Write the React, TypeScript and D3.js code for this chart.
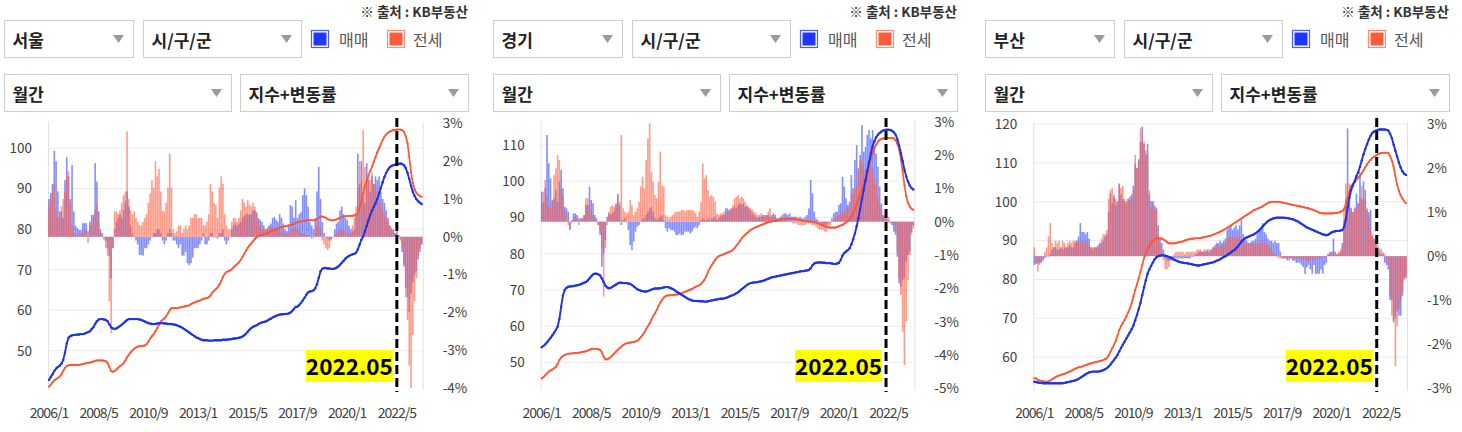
import React from 'react';
import * as d3 from 'd3';

const FONT = "'Noto Sans CJK KR', 'Noto Sans', sans-serif";

// monthly x axis, 2006/1 .. 2023/7
const tickMonths = [0, 28, 56, 84, 112, 140, 168, 196];
const tickLabels = ['2006/1', '2008/5', '2010/9', '2013/1', '2015/5', '2017/9', '2020/1', '2022/5'];
const markMonth = 196;
const markLabel = '2022.05';

// 서울
const seoulSaleIndex = [
  42.8, 43.5, 44.2, 45.0, 45.6, 46.0, 46.3, 46.8, 47.7, 49.5, 51.8, 53.2,
  53.6, 53.8, 53.9, 53.9, 54.0, 54.0, 54.1, 54.1, 54.2, 54.4, 54.6, 54.8,
  55.3, 55.8, 56.6, 57.3, 57.7, 57.8, 57.8, 57.7, 57.6, 57.3, 56.5, 55.8,
  55.5, 55.4, 55.5, 55.8, 56.1, 56.4, 56.8, 57.2, 57.6, 57.8, 57.8, 57.8,
  57.8, 57.8, 57.8, 57.7, 57.6, 57.4, 57.2, 57.0, 56.8, 56.7, 56.6, 56.6,
  56.6, 56.7, 56.8, 56.8, 56.8, 56.7, 56.7, 56.6, 56.6, 56.6, 56.5, 56.4,
  56.3, 56.1, 55.9, 55.7, 55.4, 55.1, 54.8, 54.5, 54.2, 53.9, 53.6, 53.3,
  53.1, 52.9, 52.7, 52.6, 52.6, 52.6, 52.5, 52.5, 52.5, 52.6, 52.6, 52.6,
  52.6, 52.6, 52.7, 52.7, 52.7, 52.8, 52.8, 52.9, 53.0, 53.0, 53.1, 53.2,
  53.3, 53.5, 53.8, 54.2, 54.7, 55.2, 55.6, 55.9, 56.1, 56.3, 56.6, 56.8,
  57.0, 57.1, 57.2, 57.4, 57.7, 57.9, 58.2, 58.4, 58.6, 58.8, 58.9, 59.0,
  59.0, 59.1, 59.1, 59.2, 59.4, 59.8, 60.3, 60.8, 60.9, 61.3, 61.8, 62.4,
  63.1, 63.8, 64.4, 64.6, 64.7, 64.9, 65.4, 66.4, 68.0, 69.6, 70.2, 70.4,
  70.4, 70.3, 70.3, 70.2, 70.2, 70.3, 70.5, 70.8, 71.2, 71.7, 72.2, 72.7,
  73.1, 73.4, 73.6, 73.8, 73.9, 74.2, 75.0, 76.2, 77.4, 78.2, 79.4, 80.8,
  82.2, 83.5, 84.6, 85.5, 86.4, 87.5, 88.8, 90.2, 91.6, 92.9, 93.9, 94.7,
  95.3, 95.6, 95.8, 95.9, 96.0, 96.1, 96.2, 96.1, 95.8, 95.1, 93.9, 92.4,
  90.7, 89.2, 88.2, 87.4, 86.9, 86.5, 86.2,
];
const seoulRentIndex = [
  41.1, 41.6, 42.2, 42.7, 43.0, 43.3, 43.6, 44.2, 45.0, 45.8, 46.2, 46.4,
  46.5, 46.5, 46.5, 46.5, 46.5, 46.5, 46.6, 46.7, 46.8, 46.9, 47.0, 47.1,
  47.2, 47.3, 47.5, 47.6, 47.6, 47.6, 47.6, 47.5, 47.4, 47.0, 46.0, 45.0,
  44.8, 45.0, 45.4, 45.8, 46.2, 46.5, 46.9, 47.6, 48.4, 49.0, 49.6, 50.1,
  50.5, 50.8, 51.0, 51.1, 51.2, 51.2, 51.3, 51.6, 52.2, 53.0, 53.6, 54.1,
  54.8, 55.6, 56.4, 57.2, 57.6, 58.0, 58.5, 59.2, 60.0, 60.5, 60.5, 60.5,
  60.5, 60.6, 60.7, 60.8, 60.9, 61.0, 61.1, 61.2, 61.5, 61.7, 61.9, 62.1,
  62.3, 62.4, 62.6, 62.8, 62.9, 63.0, 63.2, 63.6, 64.3, 64.8, 65.2, 65.6,
  66.3, 67.2, 68.2, 69.0, 69.4, 69.6, 69.8, 70.1, 70.6, 71.0, 71.4, 71.8,
  72.4, 73.1, 73.9, 74.7, 75.4, 76.0, 76.5, 77.0, 77.6, 78.0, 78.3, 78.5,
  78.6, 78.7, 78.9, 79.0, 79.2, 79.4, 79.6, 79.8, 80.0, 80.2, 80.4, 80.5,
  80.6, 80.7, 80.8, 80.9, 81.0, 81.1, 81.3, 81.5, 81.7, 81.8, 81.9, 82.0,
  82.0, 82.1, 82.2, 82.2, 82.2, 82.2, 82.2, 82.4, 82.8, 83.1, 83.1, 83.0,
  82.8, 82.5, 82.3, 82.2, 82.2, 82.3, 82.4, 82.6, 82.8, 83.0, 83.1, 83.2,
  83.2, 83.3, 83.3, 83.3, 83.4, 83.6, 84.0, 85.2, 86.6, 88.9, 90.6, 92.0,
  93.3, 94.3, 95.4, 96.6, 97.8, 99.0, 100.0, 101.0, 102.0, 102.8, 103.4, 103.8,
  104.1, 104.3, 104.5, 104.5, 104.6, 104.6, 104.6, 104.4, 104.0, 103.0, 101.2, 97.8,
  94.0, 91.4, 89.8, 89.0, 88.5, 88.2, 88.0,
];
const seoulSaleChange = [
  1.0, 1.15, 1.4, 2.27, 2.0, 1.2, 0.67, 0.67, 0.5, 1.5, 2.1, 1.6,
  1.0, 1.9, 0.67, 0.3, 0.23, 0.18, 0.18, 0.36, 0.36, 0.36, 0.15, 0.4,
  0.58, 0.58, 1.95, 1.46, 0.67, 0.2, 0.1, 0.0, -0.1, -0.3, -0.5, -1.1,
  -0.3, 0.2, 0.4, 0.5, 0.6, 0.5, 0.7, 0.93, 1.2, 0.8, 0.3, 0.1,
  0.0, -0.1, -0.2, -0.48, -0.48, -0.5, -0.3, -0.3, -0.2, -0.1, 0.0, 0.1,
  0.1, 0.2, 0.2, 0.1, -0.1, -0.2, -0.1, 0.1, 0.2, 0.1, -0.1, -0.1,
  -0.2, -0.3, -0.2, -0.5, -0.5, -0.4, -0.7, -0.75, -0.7, -0.55, -0.3, -0.3,
  -0.3, -0.2, -0.1, 0.1, -0.2, -0.2, -0.1, 0.1, 0.1, 0.0, 0.0, -0.05,
  0.1, 0.1, 0.2, -0.1, -0.2, -0.1, 0.0, 0.2, 0.3, 0.35, 0.3, 0.35,
  0.4, 0.5, 0.55, 0.6, 0.6, 0.58, 0.6, 0.7, 0.7, 0.65, 0.5, 0.45,
  0.4, 0.3, 0.2, 0.2, 0.3, 0.35, 0.5, 0.53, 0.45, 0.4, 0.6, 0.5,
  0.35, 0.2, 0.15, 0.3, 0.84, 0.8, 0.5, 0.97, 0.5, 0.6, 0.65, 1.1,
  1.28, 1.1, 0.8, 0.4, 0.3, 0.2, 0.5, 1.2, 1.85, 1.0, 0.4, 0.1,
  0.0, -0.05, -0.1, -0.05, 0.0, 0.2, 0.35, 0.4, 0.7, 0.8, 0.6, 0.5,
  0.45, 0.3, 0.2, 0.15, 0.2, 0.6, 2.2, 1.4, 2.0, 1.0, 0.9, 1.95,
  1.5, 1.2, 1.6, 1.4, 1.6, 1.5, 1.6, 1.2, 1.0, 0.9, 0.7, 0.5,
  0.3, 0.2, 0.18, 0.1, 0.15, 0.05, -0.05, -0.4, -0.75, -1.35, -1.6, -2.0,
  -1.5, -1.2, -1.0, -0.9, -0.6, -0.4, -0.2,
];
const seoulRentChange = [
  0.8, 1.0, 1.2, 1.4, 0.7, 0.5, 0.5, 0.8, 1.0, 1.2, 1.6, 1.73,
  0.9, 0.3, 0.1, 0.0, 0.1, 0.05, 0.1, 0.1, 0.2, 0.2, -0.17, 0.3,
  0.3, 0.5, 0.7, 0.85, 0.4, 0.1, 0.0, -0.1, -0.3, -0.5, -1.7, -2.55,
  -0.3, 0.67, 0.67, 0.6, 0.7, 0.9, 1.1, 1.2, 2.79, 1.0, 0.7, 0.6,
  0.67, 0.5, 0.4, 0.3, 0.3, 0.4, 0.5, 0.6, 0.9, 1.15, 1.5, 1.3,
  2.0, 1.6, 1.8, 1.2, 0.7, 0.67, 0.9, 1.3, 2.2, 1.3, 0.2, 0.1,
  0.15, 0.3, 0.3, 0.1, 0.2, 0.3, 0.2, 0.3, 0.5, 0.5, 0.6, 0.6,
  0.5, 0.5, 0.5, 0.3, 0.3, 0.4, 0.6, 1.4, 1.2, 0.9, 0.85, 0.5,
  1.3, 1.6, 1.4, 0.6, 0.3, 0.2, 0.2, 0.4, 0.5, 0.5, 0.4, 0.5,
  0.7, 1.0, 0.9, 0.8, 0.97, 0.85, 0.8, 0.9, 0.8, 0.6, 0.4, 0.3,
  0.2, 0.2, 0.2, 0.25, 0.25, 0.25, 0.25, 0.2, 0.25, 0.2, 0.2, 0.15,
  0.15, 0.1, 0.1, 0.1, 0.15, 0.2, 0.25, 0.25, 0.2, 0.15, 0.1, 0.1,
  0.1, 0.05, 0.05, 0.0, -0.05, 0.0, 0.1, 0.3, 0.4, 0.2, -0.1, -0.2,
  -0.3, -0.35, -0.3, -0.1, 0.0, 0.05, 0.1, 0.15, 0.2, 0.2, 0.15, 0.15,
  0.1, 0.1, 0.1, 0.3, 0.5, 0.8, 1.3, 2.0, 1.5, 2.82, 1.85, 1.5,
  1.6, 1.5, 1.7, 1.4, 1.3, 1.2, 1.0, 0.9, 0.7, 0.6, 0.5, 0.4,
  0.3, 0.25, 0.2, 0.1, 0.05, 0.0, -0.1, -0.3, -0.8, -1.6, -2.2, -3.4,
  -4.0, -2.6, -1.7, -1.1, -0.5, -0.3, -0.2,
];

// 경기
const gyeonggiSaleIndex = [
  54.2, 54.6, 55.0, 55.6, 56.2, 56.8, 57.5, 58.2, 59.0, 59.9, 62.0, 65.4,
  68.5, 70.0, 70.6, 70.9, 71.0, 71.0, 71.1, 71.2, 71.3, 71.4, 71.6, 71.8,
  72.0, 72.2, 72.6, 73.2, 73.8, 74.3, 74.5, 74.5, 74.3, 74.0, 73.2, 72.2,
  71.2, 70.7, 70.5, 70.6, 70.9, 71.2, 71.5, 71.8, 72.0, 72.0, 71.9, 71.9,
  71.9, 71.8, 71.7, 71.4, 71.0, 70.6, 70.2, 70.0, 69.8, 69.7, 69.6, 69.6,
  69.7, 69.9, 70.1, 70.3, 70.4, 70.4, 70.4, 70.5, 70.6, 70.7, 70.8, 70.8,
  70.7, 70.5, 70.3, 70.0, 69.6, 69.3, 69.0, 68.7, 68.4, 68.1, 67.8, 67.5,
  67.3, 67.1, 67.0, 67.0, 67.0, 66.9, 66.9, 66.9, 66.8, 66.8, 66.9, 67.0,
  67.1, 67.2, 67.3, 67.4, 67.5, 67.6, 67.6, 67.7, 67.8, 68.0, 68.2, 68.4,
  68.6, 68.8, 69.1, 69.4, 69.8, 70.2, 70.6, 71.0, 71.4, 71.7, 71.9, 72.0,
  72.1, 72.1, 72.2, 72.3, 72.4, 72.5, 72.7, 72.9, 73.1, 73.3, 73.5, 73.6,
  73.7, 73.8, 73.9, 74.0, 74.1, 74.2, 74.3, 74.4, 74.5, 74.6, 74.7, 74.8,
  74.9, 75.0, 75.1, 75.2, 75.2, 75.3, 75.4, 75.5, 76.0, 76.8, 77.3, 77.5,
  77.6, 77.6, 77.6, 77.5, 77.5, 77.4, 77.4, 77.4, 77.3, 77.2, 77.2, 77.3,
  77.5, 78.3, 79.5, 80.2, 80.6, 81.0, 81.5, 82.6, 84.0, 85.6, 87.6, 89.8,
  92.5, 95.2, 97.6, 100.2, 102.8, 105.3, 107.6, 109.6, 111.0, 112.1, 112.8, 113.3,
  113.7, 114.0, 114.1, 114.2, 114.2, 114.1, 113.9, 113.5, 112.8, 111.6, 109.8, 107.7,
  105.5, 103.2, 101.3, 99.9, 98.8, 98.1, 97.7,
];
const gyeonggiRentIndex = [
  45.6, 46.0, 46.5, 47.0, 47.5, 47.8, 48.1, 48.4, 48.8, 49.6, 50.7, 51.4,
  51.8, 52.1, 52.3, 52.4, 52.5, 52.5, 52.6, 52.6, 52.6, 52.7, 52.8, 52.9,
  53.0, 53.1, 53.3, 53.5, 53.7, 53.8, 53.8, 53.8, 53.7, 53.5, 52.8, 51.6,
  50.9, 50.9, 51.1, 51.5, 52.0, 52.5, 53.0, 53.5, 54.0, 54.4, 54.8, 55.1,
  55.3, 55.4, 55.5, 55.6, 55.7, 55.8, 56.0, 56.4, 57.0, 57.6, 58.3, 59.2,
  60.0, 60.8, 61.8, 62.8, 63.6, 64.5, 65.6, 66.5, 67.3, 67.9, 68.3, 68.5,
  68.5, 68.6, 68.6, 68.7, 68.7, 68.8, 68.9, 69.1, 69.3, 69.5, 69.7, 69.9,
  70.1, 70.3, 70.6, 70.9, 71.1, 71.3, 71.7, 72.2, 72.8, 73.8, 75.0, 76.0,
  76.8, 77.6, 78.3, 78.9, 79.3, 79.5, 79.7, 79.9, 80.1, 80.3, 80.5, 80.7,
  81.1, 81.6, 82.2, 82.8, 83.5, 84.2, 84.8, 85.3, 85.7, 86.1, 86.5, 86.8,
  87.1, 87.3, 87.5, 87.7, 87.9, 88.1, 88.3, 88.5, 88.7, 88.8, 88.9, 89.0,
  89.1, 89.2, 89.3, 89.4, 89.5, 89.5, 89.6, 89.6, 89.6, 89.6, 89.6, 89.5,
  89.5, 89.4, 89.3, 89.2, 89.1, 89.0, 89.0, 88.9, 88.9, 88.8, 88.7, 88.6,
  88.4, 88.2, 88.0, 87.8, 87.6, 87.4, 87.3, 87.2, 87.2, 87.2, 87.2, 87.4,
  87.6, 87.8, 88.0, 88.3, 88.6, 89.0, 89.5, 90.2, 91.1, 92.3, 93.6, 95.0,
  96.4, 97.8, 99.3, 100.8, 102.4, 104.1, 105.9, 107.6, 109.0, 110.1, 110.9, 111.4,
  111.6, 111.8, 111.9, 111.9, 111.9, 111.9, 111.9, 111.8, 111.3, 110.3, 108.8, 106.0,
  102.6, 98.9, 95.9, 94.0, 93.0, 92.4, 92.1,
];
const gyeonggiSaleChange = [
  0.9, 0.6, 1.0, 2.6, 1.75, 1.3, 0.65, 0.7, 0.95, 0.6, 1.2, 1.55,
  1.0, 0.45, 0.4, 0.3, -0.25, 0.05, 0.25, 0.25, 0.2, 0.1, 0.1, 0.1,
  0.2, 0.5, 0.5, 1.05, 0.65, 0.55, 0.2, 0.1, -0.1, -0.4, -1.35, -0.95,
  -0.55, 0.15, 0.25, 0.2, 0.25, 0.3, 0.55, 0.8, 0.5, -0.1, 0.05, 0.1,
  0.0, -0.25, -0.7, -0.85, -0.6, -0.3, -0.15, -0.1, 0.0, 0.1, 0.1, 0.2,
  0.3, 0.4, 0.45, 0.3, 0.1, 0.05, 0.1, 0.15, 0.2, 0.05, -0.2, -0.3,
  -0.2, -0.25, -0.25, -0.3, -0.4, -0.4, -0.35, -0.4, -0.4, -0.3, -0.3, -0.3,
  -0.35, -0.3, -0.2, -0.15, -0.2, -0.1, 0.05, 0.1, 0.05, 0.05, 0.1, 0.05,
  0.1, 0.1, 0.15, 0.05, 0.1, 0.15, 0.2, 0.2, 0.4, 0.4, 0.35, 0.4,
  0.4, 0.45, 0.4, 0.5, 0.55, 0.5, 0.55, 0.45, 0.45, 0.4, 0.35, 0.25,
  0.2, 0.15, 0.1, 0.15, 0.15, 0.2, 0.15, 0.2, 0.2, 0.15, 0.2, 0.25,
  0.2, 0.1, 0.1, 0.15, 0.2, 0.25, 0.25, 0.2, 0.25, 0.15, 0.15, 0.15,
  0.15, 0.1, 0.15, 0.1, 0.1, 0.15, 0.2, 0.4, 1.25, 0.85, 0.3, 0.1,
  0.05, 0.0, -0.05, -0.1, -0.1, -0.1, -0.05, 0.0, 0.1, 0.25, 0.3, 0.3,
  0.5, 0.55, 1.35, 1.05, 0.7, 0.5, 0.6, 1.4, 1.0, 1.85, 2.3, 1.6,
  2.0, 2.9, 2.1, 2.25, 2.6, 2.75, 2.5, 2.75, 2.25, 2.05, 1.65, 1.05,
  0.55, 0.2, 0.15, 0.1, 0.05, -0.05, -0.1, -0.3, -0.4, -1.05, -1.85, -1.95,
  -1.75, -1.7, -1.2, -1.0, -0.9, -0.3, -0.1,
];
const gyeonggiRentChange = [
  0.5, 0.9, 1.25, 0.8, 0.5, 0.4, 0.6, 1.4, 1.6, 2.0, 1.85, 1.0,
  0.8, 0.3, 0.1, -0.1, -0.2, 0.0, 0.1, 0.15, 0.1, -0.1, 0.05, 0.1,
  0.2, 0.7, 0.7, 0.5, 0.3, 0.2, 0.1, 0.0, -0.1, -0.3, -0.8, -2.25,
  -0.8, -0.1, 0.3, 0.45, 0.5, 0.45, 0.5, 0.85, 0.6, 2.6, 0.4, 0.3,
  0.25, 0.3, 0.65, 0.5, 0.2, 0.3, 0.4, 0.6, 1.05, 1.35, 1.0, 1.85,
  2.5, 2.95, 1.5, 1.2, 0.8, 0.7, 1.2, 2.1, 1.1, 1.05, 0.2, 0.15,
  0.1, 0.15, 0.2, 0.25, 0.3, 0.3, 0.3, 0.35, 0.35, 0.3, 0.35, 0.35,
  0.35, 0.35, 0.3, 0.25, 0.15, 0.3, 0.6, 1.75, 1.3, 1.4, 0.95, 0.75,
  0.8, 0.75, 0.6, 0.25, 0.2, 0.25, 0.25, 0.3, 0.25, 0.3, 0.3, 0.35,
  0.5, 0.7, 0.75, 0.8, 0.7, 0.75, 0.7, 0.6, 0.5, 0.45, 0.4, 0.35,
  0.3, 0.25, 0.2, 0.2, 0.25, 0.2, 0.2, 0.2, 0.3, 0.4, 0.15, 0.15,
  0.1, 0.1, 0.1, 0.1, 0.05, 0.05, 0.05, 0.0, 0.0, 0.0, -0.05, -0.05,
  -0.05, -0.1, -0.1, -0.1, -0.1, -0.1, -0.05, -0.05, -0.05, -0.1, -0.1, -0.15,
  -0.2, -0.25, -0.25, -0.25, -0.3, -0.3, -0.2, -0.1, 0.0, 0.05, 0.1, 0.2,
  0.2, 0.25, 0.3, 0.3, 0.4, 0.45, 0.45, 0.85, 0.8, 1.0, 1.1, 1.5,
  1.85, 1.8, 1.55, 1.6, 1.5, 1.55, 1.7, 1.6, 1.3, 1.1, 0.7, 0.5,
  0.35, 0.2, 0.15, 0.1, 0.15, 0.0, -0.05, -0.1, -0.3, -0.9, -1.7, -2.2,
  -3.3, -4.3, -3.0, -1.75, -1.0, -0.4, -0.2,
];

// 부산
const busanSaleIndex = [
  53.7, 53.6, 53.5, 53.4, 53.4, 53.3, 53.3, 53.3, 53.3, 53.3, 53.3, 53.3,
  53.3, 53.3, 53.3, 53.3, 53.3, 53.4, 53.5, 53.6, 53.7, 53.8, 53.9, 54.0,
  54.2, 54.4, 54.7, 55.0, 55.3, 55.6, 55.9, 56.1, 56.2, 56.3, 56.3, 56.3,
  56.3, 56.4, 56.5, 56.7, 56.9, 57.2, 57.6, 58.1, 58.7, 59.3, 59.9, 60.6,
  61.5, 62.4, 63.2, 64.0, 64.8, 65.6, 66.4, 67.2, 68.2, 69.5, 70.9, 72.4,
  74.0, 76.0, 78.0, 79.8, 81.5, 82.6, 83.5, 84.4, 85.2, 85.7, 86.0, 86.1,
  86.2, 86.2, 86.1, 86.0, 85.8, 85.6, 85.4, 85.1, 84.9, 84.7, 84.5, 84.4,
  84.3, 84.2, 84.2, 84.1, 84.0, 83.9, 83.8, 83.7, 83.6, 83.6, 83.7, 83.8,
  83.9, 84.0, 84.1, 84.2, 84.3, 84.4, 84.6, 84.8, 85.0, 85.2, 85.5, 85.8,
  86.0, 86.3, 86.6, 86.9, 87.3, 87.6, 88.0, 88.5, 89.1, 89.7, 90.2, 90.6,
  90.8, 91.0, 91.2, 91.4, 91.6, 91.9, 92.2, 92.6, 93.1, 93.6, 94.1, 94.6,
  95.0, 95.3, 95.5, 95.7, 95.8, 95.9, 95.9, 95.9, 95.9, 95.9, 95.8, 95.8,
  95.7, 95.6, 95.5, 95.3, 95.1, 94.9, 94.6, 94.3, 94.0, 93.7, 93.4, 93.2,
  93.0, 92.8, 92.6, 92.4, 92.2, 92.0, 91.8, 91.6, 91.5, 91.4, 91.5, 91.8,
  92.1, 92.3, 92.4, 92.5, 92.5, 92.6, 92.7, 93.5, 95.5, 98.5, 101.0, 103.0,
  104.2, 105.3, 106.6, 107.6, 109.0, 110.6, 112.2, 113.6, 114.8, 116.0, 117.0, 117.7,
  118.1, 118.3, 118.5, 118.6, 118.6, 118.6, 118.6, 118.5, 118.3, 117.5, 116.4, 114.7,
  113.1, 111.6, 110.1, 108.8, 107.8, 107.2, 106.9,
];
const busanRentIndex = [
  54.6, 54.5, 54.2, 54.0, 53.9, 53.8, 53.7, 53.7, 53.8, 54.0, 54.3, 54.6,
  54.9, 55.1, 55.3, 55.4, 55.6, 55.7, 55.9, 56.1, 56.3, 56.5, 56.8, 57.0,
  57.2, 57.4, 57.5, 57.6, 57.8, 58.0, 58.1, 58.3, 58.4, 58.5, 58.7, 58.8,
  58.9, 59.0, 59.1, 59.3, 59.5, 59.7, 60.5, 61.4, 62.3, 63.2, 64.2, 65.5,
  67.0, 68.0, 68.8, 69.6, 70.5, 71.5, 72.6, 73.8, 75.6, 77.3, 78.7, 80.3,
  82.0, 83.8, 85.5, 86.7, 87.8, 88.6, 89.3, 89.9, 90.3, 90.5, 90.6, 90.6,
  90.5, 90.3, 90.0, 89.6, 89.3, 89.3, 89.3, 89.3, 89.4, 89.5, 89.6, 89.7,
  89.8, 90.0, 90.2, 90.3, 90.4, 90.5, 90.5, 90.6, 90.6, 90.6, 90.7, 90.8,
  90.9, 91.0, 91.1, 91.2, 91.3, 91.5, 91.7, 91.9, 92.1, 92.3, 92.5, 92.8,
  93.0, 93.3, 93.6, 93.9, 94.2, 94.5, 94.8, 95.1, 95.4, 95.7, 96.0, 96.3,
  96.6, 96.9, 97.2, 97.5, 97.8, 98.0, 98.2, 98.4, 98.6, 98.8, 99.1, 99.4,
  99.7, 99.9, 100.0, 100.0, 100.0, 100.0, 100.0, 99.9, 99.8, 99.7, 99.6, 99.5,
  99.4, 99.3, 99.2, 99.1, 99.0, 98.9, 98.8, 98.7, 98.6, 98.5, 98.4, 98.3,
  98.1, 98.0, 97.8, 97.6, 97.4, 97.2, 97.1, 97.0, 97.0, 97.0, 97.0, 97.0,
  97.0, 97.0, 97.1, 97.1, 97.2, 97.4, 97.6, 98.1, 99.4, 101.0, 102.6, 104.0,
  104.6, 105.1, 105.7, 106.2, 106.6, 107.3, 108.1, 108.9, 109.6, 110.3, 110.8, 111.3,
  111.6, 111.9, 112.2, 112.4, 112.5, 112.6, 112.6, 112.6, 112.5, 111.8, 110.6, 109.0,
  106.6, 104.4, 102.8, 101.6, 100.8, 100.1, 99.6,
];
const busanSaleChange = [
  -0.2, -0.17, -0.17, -0.15, -0.15, -0.1, -0.05, 0.0, 0.0, 0.05, 0.15, 0.2,
  0.2, 0.15, 0.15, 0.2, 0.15, 0.2, 0.2, 0.2, 0.25, 0.2, 0.2, 0.3,
  0.35, 0.45, 0.75, 0.55, 0.55, 0.5, 0.55, 0.4, 0.2, 0.15, 0.2, 0.2,
  0.25, 0.3, 0.3, 0.35, 0.45, 0.5, 1.0, 1.42, 1.2, 1.35, 1.15, 1.25,
  1.65, 1.4, 1.3, 1.25, 1.2, 1.3, 1.35, 1.4, 1.6, 2.1, 2.0, 2.2,
  2.6, 2.94, 2.55, 2.3, 2.55, 1.4, 1.25, 1.25, 1.15, 1.1, 0.7, 0.4,
  0.3, 0.15, -0.05, -0.1, -0.1, -0.1, -0.1, -0.05, -0.05, -0.05, -0.05, -0.05,
  -0.05, -0.05, -0.05, -0.05, -0.05, 0.0, 0.0, 0.05, 0.05, 0.1, 0.1, 0.1,
  0.1, 0.1, 0.15, 0.1, 0.15, 0.2, 0.25, 0.3, 0.3, 0.35, 0.3, 0.35,
  0.4, 0.6, 0.65, 0.7, 0.6, 0.65, 0.7, 0.6, 0.7, 0.82, 0.5, 0.4,
  0.35, 0.3, 0.3, 0.35, 0.35, 0.4, 0.5, 0.55, 0.6, 0.75, 0.55, 0.5,
  0.4, 0.35, 0.35, 0.3, 0.35, 0.3, 0.3, 0.1, -0.05, -0.05, -0.05, -0.1,
  -0.05, -0.05, -0.1, -0.1, -0.15, -0.15, -0.15, -0.2, -0.25, -0.4, -0.25, -0.2,
  -0.3, -0.4, -0.2, -0.4, -0.4, -0.4, -0.3, -0.4, -0.2, -0.15, 0.05, 0.1,
  0.1, 0.4, 0.1, 0.05, 0.05, 0.1, 0.3, 0.8, 1.3, 2.9, 1.2, 1.1,
  1.0, 1.1, 1.42, 1.2, 1.9, 1.3, 1.7, 1.5, 1.05, 1.0, 1.05, 0.45,
  0.4, 0.35, 0.2, 0.1, 0.05, 0.05, -0.15, -0.2, -0.3, -1.0, -1.0, -1.5,
  -1.4, -1.25, -1.35, -1.35, -0.9, -0.5, -0.5,
];
const busanRentChange = [
  0.2, -0.17, -0.35, -0.2, -0.1, 0.0, 0.1, 0.2, 0.45, 0.75, 0.3, 0.2,
  0.35, 0.3, 0.35, 0.2, 0.35, 0.3, 0.2, 0.3, 0.35, 0.3, 0.35, 0.35,
  0.35, 0.35, 0.3, 0.35, 0.3, 0.35, 0.3, 0.25, 0.2, 0.2, 0.2, 0.2,
  0.2, 0.3, 0.4, 0.5, 0.5, 0.6, 1.3, 1.5, 1.55, 1.4, 1.3, 1.2,
  1.6, 1.55, 1.6, 1.3, 1.25, 1.3, 1.25, 1.3, 1.5, 2.3, 2.0, 2.15,
  2.9, 2.6, 2.6, 2.4, 2.3, 1.5, 1.1, 1.2, 1.05, 1.05, 0.5, 0.3,
  0.1, -0.1, -0.3, -0.3, -0.25, -0.1, 0.0, 0.05, 0.1, 0.1, 0.1, 0.1,
  0.1, 0.05, 0.1, 0.1, 0.1, 0.1, 0.1, 0.1, 0.15, 0.15, 0.15, 0.1,
  0.15, 0.15, 0.1, 0.15, 0.15, 0.2, 0.2, 0.25, 0.25, 0.2, 0.25, 0.3,
  0.3, 0.4, 0.45, 0.45, 0.4, 0.45, 0.45, 0.4, 0.45, 0.4, 0.35, 0.3,
  0.3, 0.25, 0.3, 0.3, 0.3, 0.25, 0.3, 0.3, 0.3, 0.35, 0.3, 0.3,
  0.25, 0.2, 0.2, 0.1, 0.05, 0.0, -0.05, -0.05, -0.05, -0.05, -0.05, -0.05,
  -0.1, -0.05, -0.1, -0.05, -0.05, -0.05, -0.05, -0.05, -0.1, -0.05, -0.1, -0.1,
  -0.1, -0.05, -0.1, -0.05, -0.05, -0.05, -0.05, 0.0, 0.0, 0.0, 0.05, 0.05,
  0.05, 0.1, 0.05, 0.05, 0.1, 0.15, 0.2, 1.1, 1.65, 1.2, 1.65, 1.05,
  1.0, 1.05, 1.1, 1.2, 1.35, 1.6, 1.3, 1.25, 1.1, 0.9, 0.6, 0.5,
  0.35, 0.3, 0.25, 0.17, 0.17, 0.1, 0.05, -0.1, -0.2, -0.9, -1.35, -1.45,
  -2.5, -1.6, -1.2, -1.0, -0.8, -0.55, -0.45,
];

const SALE_LINE = '#1f33e6';
const RENT_LINE = '#ff5533';
const SALE_BAR = 'rgb(55,75,255)';
const RENT_BAR = 'rgb(255,95,65)';

interface PanelConfig {
  region: string;
  saleIndex: number[];
  rentIndex: number[];
  saleChange: number[];
  rentChange: number[];
  leftTicks: number[];
  rightTicks: number[];
  leftDomain: [number, number];
  rightDomain: [number, number];
  ox: number;
  x0: number;
  x1: number;
  yTop: number;
  yBottom: number;
  markShift: number;
}

const panels: PanelConfig[] = [
  {
    region: '서울', saleIndex: seoulSaleIndex, rentIndex: seoulRentIndex,
    saleChange: seoulSaleChange, rentChange: seoulRentChange,
    leftTicks: [50, 60, 70, 80, 90, 100], rightTicks: [-4, -3, -2, -1, 0, 1, 2, 3],
    leftDomain: [40.8, 106.1], rightDomain: [-4, 3],
    ox: 0, x0: 49, x1: 421.7, yTop: 123.4, yBottom: 388, markShift: 0,
  },
  {
    region: '경기', saleIndex: gyeonggiSaleIndex, rentIndex: gyeonggiRentIndex,
    saleChange: gyeonggiSaleChange, rentChange: gyeonggiRentChange,
    leftTicks: [50, 60, 70, 80, 90, 100, 110], rightTicks: [-5, -4, -3, -2, -1, 0, 1, 2, 3],
    leftDomain: [42.9, 116.4], rightDomain: [-5, 3],
    ox: 489, x0: 541.7, x1: 913.3, yTop: 121.7, yBottom: 388.3, markShift: -2.5,
  },
  {
    region: '부산', saleIndex: busanSaleIndex, rentIndex: busanRentIndex,
    saleChange: busanSaleChange, rentChange: busanRentChange,
    leftTicks: [60, 70, 80, 90, 100, 110, 120], rightTicks: [-3, -2, -1, 0, 1, 2, 3],
    leftDomain: [52, 120], rightDomain: [-3, 3],
    ox: 981, x0: 1034.3, x1: 1406, yTop: 124, yBottom: 388.3, markShift: -4.5,
  },
];

function SelectBox({ x, y, w, label }: { x: number; y: number; w: number; label: string }) {
  const cx = x + w - 15;
  return (
    <g>
      <rect x={x} y={y} width={w} height={37} fill="#fff" stroke="#cdcdcd" />
      <text x={x + 8} y={y + 26} fontSize={17} fontWeight={600} fill="#222">{label}</text>
      <path d={`M${cx - 5.5},${y + 14.5}L${cx + 5.5},${y + 14.5}L${cx},${y + 22.5}Z`} fill="#9b9b9b" />
    </g>
  );
}

function Header({ ox, region }: { ox: number; region: string }) {
  return (
    <g transform={`translate(${ox},0)`}>
      <text x={468} y={17} textAnchor="end" fontSize={13.5} fontWeight={700} fill="#333">※ 출처 : KB부동산</text>
      <SelectBox x={4.5} y={20.5} w={129} label={region} />
      <SelectBox x={143.5} y={20.5} w={158} label="시/구/군" />
      <rect x={311.5} y={30.5} width={17} height={17} fill="none" stroke="#4a5cff" strokeWidth={1.2} />
      <rect x={313.5} y={32.5} width={13} height={13} fill="#1f36ff" />
      <text x={339} y={46} fontSize={16} fill="#555">매매</text>
      <rect x={387.5} y={30.5} width={17} height={17} fill="none" stroke="#ff8c74" strokeWidth={1.2} />
      <rect x={389.5} y={32.5} width={13} height={13} fill="#ff5a3a" />
      <text x={413} y={46} fontSize={16} fill="#555">전세</text>
      <SelectBox x={4.5} y={74.5} w={227} label="월간" />
      <SelectBox x={240.5} y={74.5} w={228} label="지수+변동률" />
    </g>
  );
}

function Panel({ p }: { p: PanelConfig }) {
  const n = p.saleIndex.length;
  const x = d3.scaleLinear().domain([0, n - 1]).range([p.x0, p.x1]);
  const yL = d3.scaleLinear().domain(p.leftDomain).range([p.yBottom, p.yTop]);
  const yR = d3.scaleLinear().domain(p.rightDomain).range([p.yBottom, p.yTop]);
  const line = d3.line<number>().x((_, i) => x(i)).y(d => yL(d));
  const zero = yR(0);
  const bw = 1.6;
  const xm = x(markMonth) + p.markShift;

  const bars = (vals: number[], color: string) =>
    vals.map((v, i) => (
      <rect key={i} x={x(i) - bw / 2} y={Math.min(yR(v), zero)} width={bw}
        height={Math.max(0.6, Math.abs(yR(v) - zero))} fill={color} fillOpacity={0.62} />
    ));

  const series = (vals: number[], color: string, w: number, r: number) => (
    <g>
      <path d={line(vals) || ''} fill="none" stroke={color} strokeWidth={w} />
      {vals.map((v, i) => <circle key={i} cx={x(i)} cy={yL(v)} r={r} fill={color} />)}
    </g>
  );

  return (
    <g>
      <Header ox={p.ox} region={p.region} />
      {p.leftTicks.map(t => (
        <line key={`g${t}`} x1={p.x0} x2={p.x1 + 1} y1={yL(t)} y2={yL(t)} stroke="#ececec" />
      ))}
      <line x1={p.x0 - 0.5} x2={p.x0 - 0.5} y1={p.yTop - 2} y2={p.yBottom + 2} stroke="#e2e2e2" />
      <line x1={p.x1 + 1.5} x2={p.x1 + 1.5} y1={p.yTop - 2} y2={p.yBottom + 2} stroke="#e2e2e2" />
      {p.leftTicks.map(t => (
        <text key={`l${t}`} x={p.x0 - 17} y={yL(t)} dy="0.36em" textAnchor="end" fontSize={13.5} fill="#404040">{t}</text>
      ))}
      {p.rightTicks.map(t => (
        <text key={`r${t}`} x={p.x1 + 21} y={yR(t)} dy="0.36em" fontSize={13.5} fill="#404040">{`${t}%`}</text>
      ))}
      {tickMonths.map((m, i) => (
        <text key={`x${m}`} x={x(m)} y={418} textAnchor="middle" fontSize={14} letterSpacing={-1} fill="#404040">{tickLabels[i]}</text>
      ))}
      <g>{bars(p.saleChange, SALE_BAR)}</g>
      <g>{bars(p.rentChange, RENT_BAR)}</g>
      {series(p.rentIndex, RENT_LINE, 1.7, 1.05)}
      {series(p.saleIndex, SALE_LINE, 1.9, 1.2)}
      <line x1={xm} x2={xm} y1={118} y2={392} stroke="#000" strokeWidth={3} strokeDasharray="9,4" />
      <rect x={xm - 91} y={350} width={87} height={32} fill="#ffff00" />
      <text x={xm - 47.5} y={374.5} textAnchor="middle" fontSize={22.5} fontWeight={700} fill="#000">{markLabel}</text>
    </g>
  );
}

export default function App() {
  return (
    <div style={{ position: 'absolute', left: 0, top: 0, width: 1462, height: 432, background: '#fff' }}>
      <svg width={1462} height={432} style={{ display: 'block', fontFamily: FONT }}>
        <rect width={1462} height={432} fill="#fff" />
        {panels.map(p => <Panel key={p.region} p={p} />)}
      </svg>
    </div>
  );
}
